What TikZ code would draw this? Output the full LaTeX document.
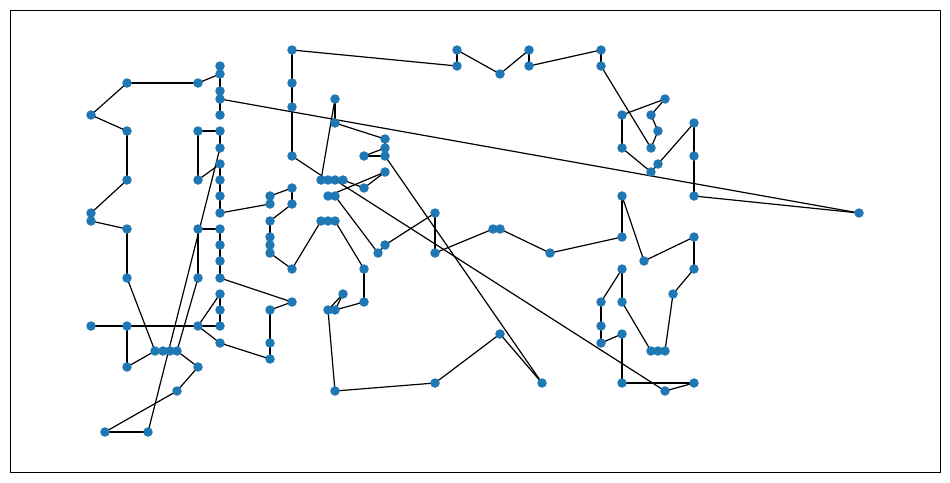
\documentclass[tikz,border=0pt]{standalone}
\usepackage{tikz}
\definecolor{tabblue}{HTML}{1F77B4}
\tikzset{
  dot/.style={circle, fill=tabblue, inner sep=0pt, minimum size=9.5pt},
  link/.style={-, line width=1.2pt, black}
}
\begin{document}
\begin{tikzpicture}[x=1pt, y=-1pt]
    \useasboundingbox (0,0) rectangle (950,482);
    \draw[line width=0.8pt] (10,10) rectangle (940,472);
    % nodes
    \foreach \n/\x/\y in {a1/292/50, a2/292/83, a3/292/107, a4/292/156,
        b1/457/50, b2/457/66, b3/500/74, b4/529/50, b5/529/66, b6/601/50, b7/601/66,
        c1/665/99, c2/622/115, c3/651/115, c4/658/131, c5/622/148, c6/651/148,
        c7/658/164, c8/651/172, c9/694/123, c10/694/156, c11/694/196, c12/859/213,
        d1/622/196, d2/622/237, d3/644/261, d4/694/237, d5/694/269, d6/673/294,
        d7/665/351, d8/658/351, d9/651/351, d10/622/302, d11/622/269, d12/601/302,
        d13/601/326, d14/601/343, d15/622/334, d16/622/383, d17/694/383, d18/665/391,
        e1/550/253, e2/500/229, e3/493/229, e4/435/253, e5/435/213, e6/385/245, e7/378/253,
        f1/335/99, f2/335/123, f3/385/139, f4/385/148, f5/364/156, f6/385/156,
        f7/385/172, f8/364/188,
        g1/321/180, g2/328/180, g3/335/180, g4/343/180, g5/328/196, g6/335/196,
        h1/321/221, h2/328/221, h3/335/221, h4/292/269, h5/364/269, h6/364/302,
        h7/335/310, h8/328/310, h9/343/294, h10/335/391, h11/435/383, h12/500/334, h13/542/383,
        i1/292/188, i2/270/196, i3/270/204, i4/292/204, i5/270/221, i6/270/237,
        i7/270/245, i8/270/253,
        j1/220/66, j2/220/74, j3/220/91, j4/220/99, j5/220/115, j6/220/131, j7/220/148,
        j8/220/164, j9/220/180, j10/220/196, j11/220/213, j12/220/229, j13/220/245,
        j14/220/261, j15/220/278, j16/220/294, j17/220/310, j18/220/326, j19/220/343,
        k1/198/83, k2/198/131, k3/198/180, k4/198/229, k5/198/278, k6/198/326, k7/198/367,
        l1/127/83, l2/91/115, l3/127/131, l4/127/180, l5/91/213, l6/91/221, l7/127/229,
        l8/127/278, l9/91/326, l10/127/326, l11/127/367,
        m1/155/351, m2/163/351, m3/170/351, m4/177/351, m5/177/391, m6/105/432, m7/148/432,
        p1/292/302, p2/270/310, p3/270/343, p4/270/359}
        \coordinate (\n) at (\x,\y);
    % edges
    \foreach \a/\b in {a1/a2, a2/a3, a3/a4, a4/g2, f1/g1, g1/g2, g2/g3, g3/g4, g3/d18,
        g4/f8, f8/f7, f7/g5, g5/g6, g6/e7, e7/e6, e6/e5, e5/e4, e4/e3, e3/e2, e2/e1,
        e1/d2, d2/d1, d1/d3, d3/d4, d4/d5, d5/d6, d6/d7, d7/d8, d8/d9, d9/d10, d10/d11,
        d11/d12, d12/d13, d13/d14, d14/d15, d15/d16, d16/d17, d17/d18,
        a1/b2, b2/b1, b1/b3, b3/b4, b4/b5, b5/b6, b6/b7, b7/c6, c6/c4, c4/c3, c3/c1,
        c1/c2, c2/c5, c5/c8, c8/c7, c7/c9, c9/c10, c10/c11, c11/c12, c12/j4,
        f1/f2, f2/f3, f3/f4, f4/f5, f5/f6, f6/h13, h13/h12, h12/h11, h11/h10, h10/h8,
        h8/h9, h9/h7, h7/h6, h6/h5, h5/h3, h3/h2, h2/h1, h1/h4, h4/i8, i8/i7, i7/i6,
        i6/i5, i5/i4, i4/i1, i1/i2, i2/i3, i3/j11,
        j1/j2, j2/j3, j3/j4, j4/j5, j2/k1, k1/l1, l1/l2, l2/l3, l3/l4, l4/l5, l5/l6,
        l6/l7, l7/l8, l8/m1, m1/m2, m2/m3, m3/m4, k2/j6, k2/k3, j6/j7, j7/m7, j8/k3,
        j8/j9, j9/j10, j10/j11, k4/j12, k4/k5, k5/m4, j12/j13, j13/j14, j14/j15,
        j15/p1, p1/p2, p2/p3, p3/p4, p4/j19, j19/k6, k6/j16, j16/j17, j17/j18, j18/k6,
        l9/l10, l10/k6, l10/l11, l11/m1, m4/k7, k7/m5, m5/m6, m6/m7}
        \draw[link] (\a) -- (\b);
    \foreach \n in {a1,a2,a3,a4,b1,b2,b3,b4,b5,b6,b7,c1,c2,c3,c4,c5,c6,c7,c8,c9,c10,c11,c12,
        d1,d2,d3,d4,d5,d6,d7,d8,d9,d10,d11,d12,d13,d14,d15,d16,d17,d18,
        e1,e2,e3,e4,e5,e6,e7,f1,f2,f3,f4,f5,f6,f7,f8,g1,g2,g3,g4,g5,g6,
        h1,h2,h3,h4,h5,h6,h7,h8,h9,h10,h11,h12,h13,i1,i2,i3,i4,i5,i6,i7,i8,
        j1,j2,j3,j4,j5,j6,j7,j8,j9,j10,j11,j12,j13,j14,j15,j16,j17,j18,j19,
        k1,k2,k3,k4,k5,k6,k7,l1,l2,l3,l4,l5,l6,l7,l8,l9,l10,l11,m1,m2,m3,m4,m5,m6,m7,
        p1,p2,p3,p4}
        \node[dot] (dot-\n) at (\n) {};
\end{tikzpicture}
\end{document}
